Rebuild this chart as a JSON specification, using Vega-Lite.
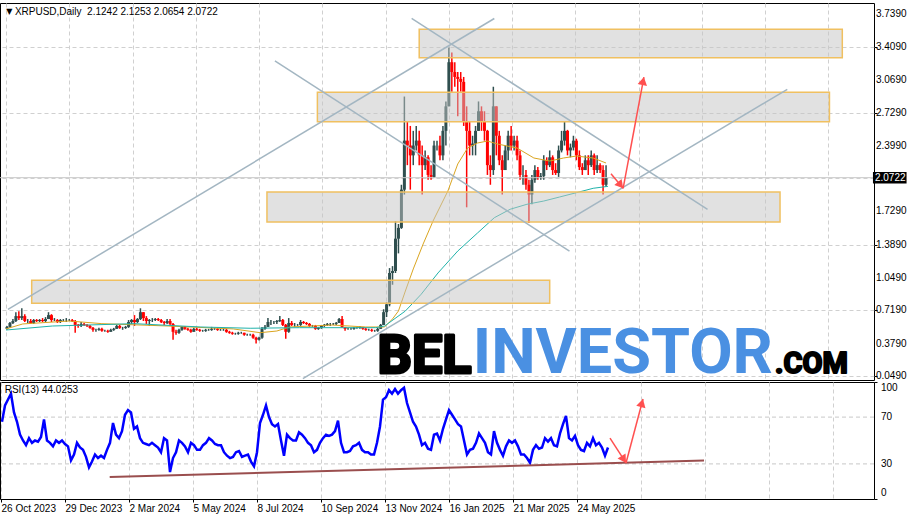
{
"$schema":"https://vega.github.io/schema/vega-lite/v6.json",
"background":"#ffffff",
"padding":{"left":-4,"top":2,"right":0,"bottom":0},
"spacing":2,
"bounds":"flush",
"config":{
 "view":{"stroke":"#000000","strokeWidth":1},
 "axis":{"labelFont":"Liberation Sans","labelFontSize":10,"labelColor":"#000000","tickColor":"#000000","gridColor":"#d0d0d0","gridDash":[4,3],"gridWidth":1,"labelOverlap":false}
},
"datasets":{
"bars":[
{"d":"2023-10-27","o":0.53,"h":0.56,"l":0.52,"c":0.55,"r":66},
{"d":"2023-10-30","o":0.55,"h":0.60,"l":0.54,"c":0.59,"r":80},
{"d":"2023-11-02","o":0.59,"h":0.63,"l":0.58,"c":0.61,"r":85},
{"d":"2023-11-05","o":0.61,"h":0.70,"l":0.60,"c":0.66,"r":90},
{"d":"2023-11-08","o":0.66,"h":0.71,"l":0.62,"c":0.64,"r":74},
{"d":"2023-11-11","o":0.64,"h":0.74,"l":0.62,"c":0.66,"r":66},
{"d":"2023-11-14","o":0.66,"h":0.68,"l":0.60,"c":0.61,"r":55},
{"d":"2023-11-17","o":0.61,"h":0.63,"l":0.59,"c":0.61,"r":50},
{"d":"2023-11-20","o":0.61,"h":0.63,"l":0.58,"c":0.59,"r":46},
{"d":"2023-11-23","o":0.59,"h":0.63,"l":0.58,"c":0.62,"r":52},
{"d":"2023-11-26","o":0.62,"h":0.63,"l":0.60,"c":0.61,"r":48},
{"d":"2023-11-29","o":0.61,"h":0.63,"l":0.60,"c":0.62,"r":50},
{"d":"2023-12-02","o":0.62,"h":0.64,"l":0.60,"c":0.61,"r":49},
{"d":"2023-12-05","o":0.61,"h":0.65,"l":0.60,"c":0.63,"r":53},
{"d":"2023-12-08","o":0.63,"h":0.70,"l":0.63,"c":0.67,"r":68},
{"d":"2023-12-11","o":0.67,"h":0.68,"l":0.60,"c":0.62,"r":50},
{"d":"2023-12-14","o":0.62,"h":0.64,"l":0.61,"c":0.62,"r":48},
{"d":"2023-12-17","o":0.62,"h":0.63,"l":0.59,"c":0.60,"r":45},
{"d":"2023-12-20","o":0.60,"h":0.63,"l":0.59,"c":0.62,"r":50},
{"d":"2023-12-23","o":0.62,"h":0.63,"l":0.61,"c":0.62,"r":48},
{"d":"2023-12-26","o":0.62,"h":0.64,"l":0.60,"c":0.62,"r":50},
{"d":"2023-12-29","o":0.62,"h":0.63,"l":0.61,"c":0.62,"r":47},
{"d":"2024-01-01","o":0.62,"h":0.63,"l":0.60,"c":0.61,"r":45},
{"d":"2024-01-04","o":0.61,"h":0.62,"l":0.49,"c":0.57,"r":33},
{"d":"2024-01-07","o":0.57,"h":0.58,"l":0.54,"c":0.56,"r":38},
{"d":"2024-01-10","o":0.56,"h":0.60,"l":0.55,"c":0.58,"r":48},
{"d":"2024-01-13","o":0.58,"h":0.59,"l":0.56,"c":0.57,"r":44},
{"d":"2024-01-16","o":0.57,"h":0.58,"l":0.55,"c":0.56,"r":42},
{"d":"2024-01-19","o":0.56,"h":0.57,"l":0.53,"c":0.54,"r":36},
{"d":"2024-01-22","o":0.54,"h":0.55,"l":0.50,"c":0.52,"r":27},
{"d":"2024-01-25","o":0.52,"h":0.53,"l":0.50,"c":0.52,"r":32},
{"d":"2024-01-28","o":0.52,"h":0.54,"l":0.51,"c":0.53,"r":38},
{"d":"2024-01-31","o":0.53,"h":0.54,"l":0.50,"c":0.51,"r":35},
{"d":"2024-02-03","o":0.51,"h":0.52,"l":0.50,"c":0.51,"r":37},
{"d":"2024-02-06","o":0.51,"h":0.52,"l":0.49,"c":0.50,"r":35},
{"d":"2024-02-09","o":0.50,"h":0.53,"l":0.50,"c":0.52,"r":42},
{"d":"2024-02-12","o":0.52,"h":0.54,"l":0.51,"c":0.53,"r":48},
{"d":"2024-02-15","o":0.53,"h":0.57,"l":0.53,"c":0.56,"r":65},
{"d":"2024-02-18","o":0.56,"h":0.57,"l":0.53,"c":0.54,"r":55},
{"d":"2024-02-21","o":0.54,"h":0.55,"l":0.52,"c":0.54,"r":52},
{"d":"2024-02-24","o":0.54,"h":0.56,"l":0.53,"c":0.55,"r":58},
{"d":"2024-02-27","o":0.55,"h":0.62,"l":0.54,"c":0.60,"r":72},
{"d":"2024-03-01","o":0.60,"h":0.63,"l":0.58,"c":0.62,"r":76},
{"d":"2024-03-04","o":0.62,"h":0.67,"l":0.56,"c":0.60,"r":74},
{"d":"2024-03-07","o":0.60,"h":0.64,"l":0.59,"c":0.63,"r":60},
{"d":"2024-03-10","o":0.63,"h":0.74,"l":0.62,"c":0.70,"r":62},
{"d":"2024-03-13","o":0.70,"h":0.70,"l":0.61,"c":0.64,"r":52},
{"d":"2024-03-16","o":0.64,"h":0.66,"l":0.58,"c":0.61,"r":48},
{"d":"2024-03-19","o":0.61,"h":0.63,"l":0.56,"c":0.62,"r":47},
{"d":"2024-03-22","o":0.62,"h":0.64,"l":0.60,"c":0.62,"r":46},
{"d":"2024-03-25","o":0.62,"h":0.64,"l":0.61,"c":0.63,"r":48},
{"d":"2024-03-28","o":0.63,"h":0.64,"l":0.61,"c":0.62,"r":46},
{"d":"2024-03-31","o":0.62,"h":0.63,"l":0.59,"c":0.60,"r":44},
{"d":"2024-04-03","o":0.60,"h":0.61,"l":0.57,"c":0.59,"r":40},
{"d":"2024-04-06","o":0.59,"h":0.63,"l":0.58,"c":0.61,"r":52},
{"d":"2024-04-09","o":0.61,"h":0.63,"l":0.57,"c":0.58,"r":50},
{"d":"2024-04-12","o":0.58,"h":0.59,"l":0.42,"c":0.50,"r":23},
{"d":"2024-04-15","o":0.50,"h":0.52,"l":0.47,"c":0.49,"r":35},
{"d":"2024-04-18","o":0.49,"h":0.53,"l":0.48,"c":0.52,"r":40},
{"d":"2024-04-21","o":0.52,"h":0.56,"l":0.51,"c":0.55,"r":50},
{"d":"2024-04-24","o":0.55,"h":0.56,"l":0.52,"c":0.53,"r":48},
{"d":"2024-04-27","o":0.53,"h":0.54,"l":0.51,"c":0.52,"r":45},
{"d":"2024-04-30","o":0.52,"h":0.53,"l":0.49,"c":0.50,"r":40},
{"d":"2024-05-03","o":0.50,"h":0.54,"l":0.50,"c":0.53,"r":48},
{"d":"2024-05-06","o":0.53,"h":0.54,"l":0.51,"c":0.52,"r":46},
{"d":"2024-05-09","o":0.52,"h":0.53,"l":0.50,"c":0.51,"r":42},
{"d":"2024-05-12","o":0.51,"h":0.52,"l":0.50,"c":0.51,"r":42},
{"d":"2024-05-15","o":0.51,"h":0.53,"l":0.50,"c":0.52,"r":46},
{"d":"2024-05-18","o":0.52,"h":0.53,"l":0.51,"c":0.52,"r":48},
{"d":"2024-05-21","o":0.52,"h":0.55,"l":0.51,"c":0.53,"r":52},
{"d":"2024-05-24","o":0.53,"h":0.54,"l":0.52,"c":0.53,"r":50},
{"d":"2024-05-27","o":0.53,"h":0.54,"l":0.51,"c":0.52,"r":47},
{"d":"2024-05-30","o":0.52,"h":0.53,"l":0.51,"c":0.52,"r":46},
{"d":"2024-06-02","o":0.52,"h":0.53,"l":0.51,"c":0.52,"r":46},
{"d":"2024-06-05","o":0.52,"h":0.53,"l":0.49,"c":0.50,"r":40},
{"d":"2024-06-08","o":0.50,"h":0.51,"l":0.48,"c":0.49,"r":37},
{"d":"2024-06-11","o":0.49,"h":0.50,"l":0.47,"c":0.48,"r":35},
{"d":"2024-06-14","o":0.48,"h":0.49,"l":0.47,"c":0.48,"r":36},
{"d":"2024-06-17","o":0.48,"h":0.50,"l":0.47,"c":0.49,"r":40},
{"d":"2024-06-20","o":0.49,"h":0.50,"l":0.48,"c":0.49,"r":41},
{"d":"2024-06-23","o":0.49,"h":0.49,"l":0.46,"c":0.47,"r":36},
{"d":"2024-06-26","o":0.47,"h":0.48,"l":0.46,"c":0.47,"r":37},
{"d":"2024-06-29","o":0.47,"h":0.48,"l":0.46,"c":0.47,"r":38},
{"d":"2024-07-02","o":0.47,"h":0.48,"l":0.43,"c":0.44,"r":32},
{"d":"2024-07-05","o":0.44,"h":0.45,"l":0.38,"c":0.42,"r":28},
{"d":"2024-07-08","o":0.42,"h":0.45,"l":0.41,"c":0.44,"r":40},
{"d":"2024-07-11","o":0.44,"h":0.55,"l":0.43,"c":0.53,"r":65},
{"d":"2024-07-14","o":0.53,"h":0.57,"l":0.52,"c":0.55,"r":72},
{"d":"2024-07-17","o":0.55,"h":0.64,"l":0.55,"c":0.60,"r":80},
{"d":"2024-07-20","o":0.60,"h":0.62,"l":0.57,"c":0.60,"r":70},
{"d":"2024-07-23","o":0.60,"h":0.61,"l":0.58,"c":0.60,"r":64},
{"d":"2024-07-26","o":0.60,"h":0.62,"l":0.58,"c":0.61,"r":62},
{"d":"2024-07-29","o":0.61,"h":0.66,"l":0.60,"c":0.62,"r":64},
{"d":"2024-08-01","o":0.62,"h":0.63,"l":0.56,"c":0.57,"r":50},
{"d":"2024-08-04","o":0.57,"h":0.58,"l":0.43,"c":0.50,"r":37},
{"d":"2024-08-07","o":0.50,"h":0.64,"l":0.49,"c":0.59,"r":55},
{"d":"2024-08-10","o":0.59,"h":0.61,"l":0.56,"c":0.57,"r":52},
{"d":"2024-08-13","o":0.57,"h":0.59,"l":0.55,"c":0.57,"r":50},
{"d":"2024-08-16","o":0.57,"h":0.58,"l":0.56,"c":0.57,"r":50},
{"d":"2024-08-19","o":0.57,"h":0.62,"l":0.56,"c":0.60,"r":57},
{"d":"2024-08-22","o":0.60,"h":0.61,"l":0.58,"c":0.59,"r":55},
{"d":"2024-08-25","o":0.59,"h":0.60,"l":0.57,"c":0.58,"r":52},
{"d":"2024-08-28","o":0.58,"h":0.59,"l":0.55,"c":0.56,"r":48},
{"d":"2024-08-31","o":0.56,"h":0.57,"l":0.55,"c":0.56,"r":46},
{"d":"2024-09-03","o":0.56,"h":0.57,"l":0.52,"c":0.53,"r":40},
{"d":"2024-09-06","o":0.53,"h":0.55,"l":0.52,"c":0.54,"r":42},
{"d":"2024-09-09","o":0.54,"h":0.57,"l":0.53,"c":0.56,"r":48},
{"d":"2024-09-12","o":0.56,"h":0.58,"l":0.55,"c":0.57,"r":52},
{"d":"2024-09-15","o":0.57,"h":0.59,"l":0.56,"c":0.58,"r":55},
{"d":"2024-09-18","o":0.58,"h":0.59,"l":0.56,"c":0.58,"r":54},
{"d":"2024-09-21","o":0.58,"h":0.59,"l":0.57,"c":0.58,"r":55},
{"d":"2024-09-24","o":0.58,"h":0.60,"l":0.57,"c":0.59,"r":58},
{"d":"2024-09-27","o":0.59,"h":0.64,"l":0.59,"c":0.63,"r":67},
{"d":"2024-09-30","o":0.63,"h":0.66,"l":0.54,"c":0.55,"r":48},
{"d":"2024-10-03","o":0.55,"h":0.55,"l":0.51,"c":0.53,"r":40},
{"d":"2024-10-06","o":0.53,"h":0.54,"l":0.52,"c":0.53,"r":40},
{"d":"2024-10-09","o":0.53,"h":0.54,"l":0.52,"c":0.53,"r":41},
{"d":"2024-10-12","o":0.53,"h":0.55,"l":0.52,"c":0.54,"r":45},
{"d":"2024-10-15","o":0.54,"h":0.55,"l":0.53,"c":0.54,"r":46},
{"d":"2024-10-18","o":0.54,"h":0.56,"l":0.53,"c":0.55,"r":48},
{"d":"2024-10-21","o":0.55,"h":0.55,"l":0.52,"c":0.53,"r":42},
{"d":"2024-10-24","o":0.53,"h":0.54,"l":0.51,"c":0.52,"r":40},
{"d":"2024-10-27","o":0.52,"h":0.53,"l":0.51,"c":0.52,"r":40},
{"d":"2024-10-30","o":0.52,"h":0.53,"l":0.50,"c":0.51,"r":38},
{"d":"2024-11-02","o":0.51,"h":0.52,"l":0.50,"c":0.51,"r":38},
{"d":"2024-11-05","o":0.51,"h":0.54,"l":0.50,"c":0.53,"r":48},
{"d":"2024-11-08","o":0.53,"h":0.58,"l":0.53,"c":0.57,"r":62},
{"d":"2024-11-11","o":0.57,"h":0.73,"l":0.57,"c":0.70,"r":85},
{"d":"2024-11-14","o":0.70,"h":0.80,"l":0.65,"c":0.78,"r":87},
{"d":"2024-11-17","o":0.78,"h":1.15,"l":0.76,"c":1.10,"r":93},
{"d":"2024-11-20","o":1.10,"h":1.17,"l":0.98,"c":1.12,"r":90},
{"d":"2024-11-23","o":1.12,"h":1.63,"l":1.10,"c":1.45,"r":94},
{"d":"2024-11-26","o":1.45,"h":1.60,"l":1.30,"c":1.56,"r":90},
{"d":"2024-11-29","o":1.56,"h":2.00,"l":1.55,"c":1.95,"r":93},
{"d":"2024-12-02","o":1.95,"h":2.90,"l":1.90,"c":2.45,"r":95},
{"d":"2024-12-05","o":2.45,"h":2.65,"l":2.20,"c":2.40,"r":82},
{"d":"2024-12-08","o":2.40,"h":2.60,"l":1.95,"c":2.30,"r":74},
{"d":"2024-12-11","o":2.30,"h":2.55,"l":2.20,"c":2.40,"r":66},
{"d":"2024-12-14","o":2.40,"h":2.60,"l":2.35,"c":2.45,"r":62},
{"d":"2024-12-17","o":2.45,"h":2.55,"l":2.20,"c":2.30,"r":55},
{"d":"2024-12-20","o":2.30,"h":2.40,"l":1.90,"c":2.20,"r":46},
{"d":"2024-12-23","o":2.20,"h":2.35,"l":2.15,"c":2.28,"r":48},
{"d":"2024-12-26","o":2.28,"h":2.30,"l":2.05,"c":2.10,"r":43},
{"d":"2024-12-29","o":2.10,"h":2.20,"l":2.05,"c":2.08,"r":42},
{"d":"2025-01-01","o":2.08,"h":2.45,"l":2.07,"c":2.40,"r":55},
{"d":"2025-01-04","o":2.40,"h":2.45,"l":2.35,"c":2.40,"r":56},
{"d":"2025-01-07","o":2.40,"h":2.50,"l":2.25,"c":2.30,"r":50},
{"d":"2025-01-10","o":2.30,"h":2.60,"l":2.25,"c":2.55,"r":60},
{"d":"2025-01-13","o":2.55,"h":2.85,"l":2.40,"c":2.80,"r":68},
{"d":"2025-01-16","o":2.80,"h":3.40,"l":2.80,"c":3.25,"r":76},
{"d":"2025-01-19","o":3.25,"h":3.35,"l":2.95,"c":3.15,"r":72},
{"d":"2025-01-22","o":3.15,"h":3.25,"l":3.00,"c":3.10,"r":68},
{"d":"2025-01-25","o":3.10,"h":3.15,"l":2.70,"c":3.08,"r":64},
{"d":"2025-01-28","o":3.08,"h":3.15,"l":2.95,"c":3.05,"r":62},
{"d":"2025-01-31","o":3.05,"h":3.10,"l":2.60,"c":2.65,"r":50},
{"d":"2025-02-03","o":2.65,"h":2.80,"l":1.77,"c":2.55,"r":38},
{"d":"2025-02-06","o":2.55,"h":2.65,"l":2.30,"c":2.40,"r":42},
{"d":"2025-02-09","o":2.40,"h":2.50,"l":2.30,"c":2.42,"r":43},
{"d":"2025-02-12","o":2.42,"h":2.60,"l":2.30,"c":2.55,"r":48},
{"d":"2025-02-15","o":2.55,"h":2.85,"l":2.55,"c":2.75,"r":56},
{"d":"2025-02-18","o":2.75,"h":2.80,"l":2.55,"c":2.65,"r":52},
{"d":"2025-02-21","o":2.65,"h":2.75,"l":2.45,"c":2.55,"r":48},
{"d":"2025-02-24","o":2.55,"h":2.56,"l":2.10,"c":2.20,"r":40},
{"d":"2025-02-27","o":2.20,"h":2.30,"l":2.00,"c":2.15,"r":38},
{"d":"2025-03-02","o":2.15,"h":3.00,"l":2.10,"c":2.80,"r":58},
{"d":"2025-03-05","o":2.80,"h":2.80,"l":2.30,"c":2.50,"r":48},
{"d":"2025-03-08","o":2.50,"h":2.55,"l":2.20,"c":2.25,"r":42},
{"d":"2025-03-11","o":2.25,"h":2.30,"l":1.90,"c":2.15,"r":37},
{"d":"2025-03-14","o":2.15,"h":2.40,"l":2.15,"c":2.35,"r":45},
{"d":"2025-03-17","o":2.35,"h":2.55,"l":2.25,"c":2.50,"r":50},
{"d":"2025-03-20","o":2.50,"h":2.60,"l":2.35,"c":2.40,"r":48},
{"d":"2025-03-23","o":2.40,"h":2.50,"l":2.35,"c":2.45,"r":50},
{"d":"2025-03-26","o":2.45,"h":2.50,"l":2.25,"c":2.30,"r":45},
{"d":"2025-03-29","o":2.30,"h":2.35,"l":2.05,"c":2.10,"r":38},
{"d":"2025-04-01","o":2.10,"h":2.20,"l":2.00,"c":2.10,"r":38},
{"d":"2025-04-04","o":2.10,"h":2.15,"l":1.95,"c":2.00,"r":35},
{"d":"2025-04-07","o":2.00,"h":2.05,"l":1.61,"c":1.90,"r":31},
{"d":"2025-04-10","o":1.90,"h":2.10,"l":1.80,"c":2.05,"r":42},
{"d":"2025-04-13","o":2.05,"h":2.20,"l":2.02,"c":2.15,"r":46},
{"d":"2025-04-16","o":2.15,"h":2.18,"l":2.05,"c":2.08,"r":43},
{"d":"2025-04-19","o":2.08,"h":2.12,"l":2.05,"c":2.09,"r":44},
{"d":"2025-04-22","o":2.09,"h":2.30,"l":2.05,"c":2.25,"r":52},
{"d":"2025-04-25","o":2.25,"h":2.28,"l":2.15,"c":2.20,"r":49},
{"d":"2025-04-28","o":2.20,"h":2.35,"l":2.18,"c":2.28,"r":52},
{"d":"2025-05-01","o":2.28,"h":2.30,"l":2.10,"c":2.15,"r":46},
{"d":"2025-05-04","o":2.15,"h":2.22,"l":2.10,"c":2.12,"r":45},
{"d":"2025-05-07","o":2.12,"h":2.40,"l":2.08,"c":2.35,"r":56},
{"d":"2025-05-10","o":2.35,"h":2.55,"l":2.33,"c":2.45,"r":64},
{"d":"2025-05-13","o":2.45,"h":2.65,"l":2.40,"c":2.55,"r":71},
{"d":"2025-05-16","o":2.55,"h":2.56,"l":2.30,"c":2.35,"r":52},
{"d":"2025-05-19","o":2.35,"h":2.42,"l":2.28,"c":2.38,"r":50},
{"d":"2025-05-22","o":2.38,"h":2.50,"l":2.35,"c":2.45,"r":54},
{"d":"2025-05-25","o":2.45,"h":2.47,"l":2.25,"c":2.30,"r":46},
{"d":"2025-05-28","o":2.30,"h":2.35,"l":2.15,"c":2.18,"r":42},
{"d":"2025-05-31","o":2.18,"h":2.22,"l":2.10,"c":2.15,"r":41},
{"d":"2025-06-03","o":2.15,"h":2.30,"l":2.15,"c":2.25,"r":48},
{"d":"2025-06-06","o":2.25,"h":2.30,"l":2.10,"c":2.20,"r":45},
{"d":"2025-06-09","o":2.20,"h":2.35,"l":2.18,"c":2.30,"r":52},
{"d":"2025-06-12","o":2.30,"h":2.32,"l":2.10,"c":2.15,"r":46},
{"d":"2025-06-15","o":2.15,"h":2.30,"l":2.12,"c":2.20,"r":48},
{"d":"2025-06-18","o":2.20,"h":2.22,"l":2.12,"c":2.15,"r":44},
{"d":"2025-06-21","o":2.15,"h":2.20,"l":1.90,"c":2.00,"r":37},
{"d":"2025-06-24","o":2.00,"h":2.20,"l":1.98,"c":2.07,"r":44}
],
"ma1":[
{"d":"2023-10-26","v":0.529},{"d":"2023-11-12","v":0.580},{"d":"2023-12-29","v":0.610},{"d":"2024-01-31","v":0.583},{"d":"2024-04-07","v":0.559},{"d":"2024-06-12","v":0.529},{"d":"2024-07-09","v":0.491},{"d":"2024-07-26","v":0.508},{"d":"2024-08-08","v":0.549},{"d":"2024-09-20","v":0.569},{"d":"2024-10-24","v":0.549},{"d":"2024-11-12","v":0.549},{"d":"2024-11-20","v":0.631},{"d":"2024-11-26","v":0.712},{"d":"2024-12-03","v":0.916},{"d":"2024-12-11","v":1.141},{"d":"2024-12-21","v":1.396},{"d":"2024-12-31","v":1.630},{"d":"2025-01-15","v":1.936},{"d":"2025-01-25","v":2.212},{"d":"2025-02-04","v":2.375},{"d":"2025-02-14","v":2.426},{"d":"2025-02-24","v":2.446},{"d":"2025-03-06","v":2.416},{"d":"2025-03-26","v":2.375},{"d":"2025-04-12","v":2.273},{"d":"2025-04-28","v":2.242},{"d":"2025-05-12","v":2.273},{"d":"2025-05-25","v":2.293},{"d":"2025-06-11","v":2.273},{"d":"2025-06-24","v":2.222}
],
"ma2":[
{"d":"2023-10-26","v":0.518},{"d":"2023-12-12","v":0.559},{"d":"2024-03-04","v":0.583},{"d":"2024-05-10","v":0.549},{"d":"2024-06-29","v":0.536},{"d":"2024-08-18","v":0.542},{"d":"2024-11-03","v":0.542},{"d":"2024-11-12","v":0.559},{"d":"2024-12-03","v":0.712},{"d":"2024-12-19","v":0.883},{"d":"2025-01-05","v":1.100},{"d":"2025-01-25","v":1.324},{"d":"2025-02-14","v":1.508},{"d":"2025-03-03","v":1.664},{"d":"2025-03-19","v":1.750},{"d":"2025-04-05","v":1.801},{"d":"2025-04-22","v":1.834},{"d":"2025-05-08","v":1.875},{"d":"2025-05-25","v":1.919},{"d":"2025-06-11","v":1.964},{"d":"2025-06-26","v":1.984}
],
"zones":[
{"d1":"2024-12-17","d2":"2026-02-18","p1":3.296,"p2":3.586},
{"d1":"2024-09-05","d2":"2026-02-05","p1":2.643,"p2":2.943},
{"d1":"2024-07-16","d2":"2025-12-17","p1":1.620,"p2":1.926},
{"d1":"2023-11-21","d2":"2025-04-28","p1":0.791,"p2":1.025}
],
"tl":[
{"g":"A","d":"2024-07-24","p":3.263},{"g":"A","d":"2025-05-18","p":1.324},
{"g":"B","d":"2024-12-09T08:00:00Z","p":3.698},{"g":"B","d":"2025-10-04T16:00:00Z","p":1.750},
{"g":"C","d":"2023-10-28","p":0.729},{"g":"C","d":"2025-03-03","p":3.696},
{"g":"D","d":"2024-08-21T08:00:00Z","p":0.0215},{"g":"D","d":"2025-12-24T08:00:00Z","p":2.974}
],
"arr":[
{"g":"a","d":"2025-06-29","p":2.113},{"g":"a","d":"2025-07-11T07:00:00Z","p":1.964},
{"g":"b","d":"2025-07-11T07:00:00Z","p":1.964},{"g":"b","d":"2025-08-01T07:00:00Z","p":3.099}
],
"rarr":[
{"g":"a","d":"2025-06-26","v":52.1},{"g":"a","d":"2025-07-12","v":30.8},
{"g":"b","d":"2025-07-12","v":30.8},{"g":"b","d":"2025-07-29","v":85.5}
],
"sup":[
{"d":"2024-02-11T17:00:00Z","v":18.8},{"d":"2025-09-28","v":32.9}
],
"ylab":[
{"v":3.739},{"v":3.409},{"v":3.069},{"v":2.729},{"v":2.399},{"v":1.729},{"v":1.389},{"v":1.049},{"v":0.719},{"v":0.379},{"v":0.049}
]
},
"vconcat":[
{"width":874,"height":377,"layer":[
 {"data":{"name":"bars"},"mark":{"type":"rule","strokeWidth":1.5},
  "encoding":{
   "x":{"field":"d","type":"temporal","scale":{"type":"utc","domain":[1698192000000,1773705600000],"nice":false},
        "axis":{"values":[1698278400000,1701043200000,1703808000000,1706572800000,1709337600000,1712102400000,1714867200000,1717632000000,1720396800000,1723161600000,1725926400000,1728691200000,1731456000000,1734220800000,1736985600000,1739750400000,1742515200000,1745280000000,1748044800000,1750809600000,1753574400000,1756339200000,1759104000000,1761868800000,1764633600000,1767398400000,1770163200000,1772928000000],"grid":true,"labels":false,"ticks":false,"domain":false,"title":null}},
   "y":{"field":"l","type":"quantitative","scale":{"domain":[0.0082,3.8543],"nice":false,"zero":false},
        "axis":{"orient":"right","values":[0.049,0.379,0.719,1.049,1.389,1.729,2.069,2.399,2.729,3.069,3.409,3.739],"grid":true,"domain":false,"tickSize":3,"labels":false,"title":null}},
   "y2":{"field":"h"},
   "color":{"condition":{"test":"datum.c>=datum.o","value":"#2f4f4f"},"value":"#ff0000"}}},
 {"data":{"name":"bars"},"mark":{"type":"bar","width":3},
  "encoding":{
   "x":{"field":"d","type":"temporal"},
   "y":{"field":"o","type":"quantitative"},
   "y2":{"field":"c"},
   "color":{"condition":{"test":"datum.c>=datum.o","value":"#2f4f4f"},"value":"#ff0000"}}},
 {"data":{"name":"ma1"},"mark":{"type":"line","color":"#daa520","strokeWidth":1},
  "encoding":{"x":{"field":"d","type":"temporal"},"y":{"field":"v","type":"quantitative"}}},
 {"data":{"name":"ma2"},"mark":{"type":"line","color":"#20b2aa","strokeWidth":1},
  "encoding":{"x":{"field":"d","type":"temporal"},"y":{"field":"v","type":"quantitative"}}},
 {"data":{"values":[{"v":2.0722}]},"mark":{"type":"rule","color":"#c8c8c8","strokeWidth":1},
  "encoding":{"y":{"field":"v","type":"quantitative"}}},
 {"data":{"name":"zones"},"mark":{"type":"rect","fill":"#c4c4c4","fillOpacity":0.5,"stroke":"#f0c060","strokeWidth":1.5},
  "encoding":{"x":{"field":"d1","type":"temporal"},"x2":{"field":"d2"},"y":{"field":"p1","type":"quantitative"},"y2":{"field":"p2"}}},
 {"data":{"name":"tl"},"mark":{"type":"line","color":"#a3b6c2","strokeWidth":1.5},
  "encoding":{"x":{"field":"d","type":"temporal"},"y":{"field":"p","type":"quantitative"},"detail":{"field":"g"}}},
 {"data":{"name":"arr"},"mark":{"type":"line","color":"#ff5050","strokeWidth":1.5},
  "encoding":{"x":{"field":"d","type":"temporal"},"y":{"field":"p","type":"quantitative"},"detail":{"field":"g"}}},
 {"data":{"values":[{}]},"mark":{"type":"point","shape":"triangle-up","filled":true,"size":90,"angle":140,"color":"#ff5050","opacity":1},
  "encoding":{"x":{"datum":{"year":2025,"month":7,"date":8,"hours":17,"utc":true},"type":"temporal"},"y":{"datum":1.996,"type":"quantitative"}}},
 {"data":{"values":[{}]},"mark":{"type":"point","shape":"triangle-up","filled":true,"size":90,"angle":11,"color":"#ff5050","opacity":1},
  "encoding":{"x":{"datum":{"year":2025,"month":7,"date":31,"hours":12,"utc":true},"type":"temporal"},"y":{"datum":3.059,"type":"quantitative"}}},
 {"data":{"values":[{}]},"mark":{"type":"text","text":"BEL","font":"Roboto","fontWeight":"bold","fontSize":54,"align":"right","baseline":"alphabetic","fill":"#000000","stroke":"#000000","strokeWidth":3,"strokeJoin":"round"},
  "encoding":{"x":{"datum":{"year":2025,"month":2,"date":8,"utc":true},"type":"temporal"},"y":{"datum":0.083,"type":"quantitative"}}},
 {"data":{"values":[{}]},"mark":{"type":"text","text":"INVESTOR","font":"Roboto","fontWeight":"bold","fontSize":63,"align":"center","baseline":"alphabetic","fill":"#4a90e2"},
  "encoding":{"x":{"datum":{"year":2025,"month":7,"date":11,"utc":true},"type":"temporal"},"y":{"datum":0.083,"type":"quantitative"}}},
 {"data":{"values":[{}]},"mark":{"type":"text","text":".COM","font":"Roboto","fontWeight":"bold","fontSize":29,"align":"left","baseline":"alphabetic","fill":"#000000","stroke":"#000000","strokeWidth":2,"strokeJoin":"round"},
  "encoding":{"x":{"datum":{"year":2025,"month":12,"date":12,"utc":true},"type":"temporal"},"y":{"datum":0.083,"type":"quantitative"}}},
 {"data":{"values":[{}]},"mark":{"type":"text","text":"▼","font":"DejaVu Sans","fontSize":8,"align":"center","baseline":"middle","color":"#000000"},
  "encoding":{"x":{"datum":{"year":2023,"month":10,"date":29,"hours":12,"utc":true},"type":"temporal"},"y":{"datum":3.762,"type":"quantitative"}}},
 {"data":{"values":[{}]},"mark":{"type":"text","text":"XRPUSD,Daily\u00a0 2.1242 2.1253 2.0654 2.0722","font":"Liberation Sans","fontSize":10,"align":"left","baseline":"middle","color":"#000000"},
  "encoding":{"x":{"datum":{"year":2023,"month":11,"date":4,"utc":true},"type":"temporal"},"y":{"datum":3.762,"type":"quantitative"}}},
 {"data":{"name":"ylab"},"mark":{"type":"text","font":"Liberation Sans","fontSize":10,"align":"left","baseline":"middle","color":"#000000"},
  "encoding":{"x":{"datum":{"year":2026,"month":3,"date":24,"utc":true},"type":"temporal"},"y":{"field":"v","type":"quantitative"},"text":{"field":"v","type":"quantitative","format":".4f"}}},
 {"data":{"values":[{}]},"mark":{"type":"rect","color":"#000000"},
  "encoding":{"x":{"datum":{"year":2026,"month":3,"date":21,"utc":true},"type":"temporal"},"x2":{"datum":{"year":2026,"month":4,"date":24,"utc":true}},"y":{"datum":2.0129,"type":"quantitative"},"y2":{"datum":2.1302}}},
 {"data":{"values":[{}]},"mark":{"type":"text","text":"2.0722","font":"Liberation Sans","fontSize":10,"align":"left","baseline":"middle","color":"#ffffff"},
  "encoding":{"x":{"datum":{"year":2026,"month":3,"date":23,"utc":true},"type":"temporal"},"y":{"datum":2.0722,"type":"quantitative"}}}
]},
{"width":874,"height":117,"layer":[
 {"data":{"values":[{"v":30},{"v":70}]},"mark":{"type":"rule","color":"#c8c8c8","strokeDash":[4,3]},
  "encoding":{"y":{"field":"v","type":"quantitative","scale":{"domain":[0,100],"nice":false,"zero":false},
   "axis":{"orient":"right","values":[0,30,70,100],"grid":false,"domain":false,"tickSize":3,"labels":false,"title":null}}}},
 {"data":{"name":"bars"},"mark":{"type":"line","color":"#0000ff","strokeWidth":2.5},
  "encoding":{
   "x":{"field":"d","type":"temporal","scale":{"type":"utc","domain":[1698192000000,1773705600000],"nice":false},
        "axis":{"values":[1698278400000,1701043200000,1703808000000,1706572800000,1709337600000,1712102400000,1714867200000,1717632000000,1720396800000,1723161600000,1725926400000,1728691200000,1731456000000,1734220800000,1736985600000,1739750400000,1742515200000,1745280000000,1748044800000,1750809600000,1753574400000,1756339200000,1759104000000,1761868800000,1764633600000,1767398400000,1770163200000,1772928000000],"grid":true,"domain":false,"tickSize":3,"labelPadding":1,"labelAlign":"left","labelFlush":false,"labelOverlap":false,"labelBound":false,"title":null,
          "labelExpr":"(round((datum.value-1698278400000)/86400000)%64==0 && datum.value<1750000000000) ? utcFormat(datum.value,'%-d %b %Y') : ''",
          "tickOpacity":{"condition":{"test":"round((datum.value-1698278400000)/86400000)%64==0 && datum.value<1750000000000","value":1},"value":0}}},
   "y":{"field":"r","type":"quantitative"}}},
 {"data":{"name":"sup"},"mark":{"type":"line","color":"#9a4e4e","strokeWidth":2},
  "encoding":{"x":{"field":"d","type":"temporal"},"y":{"field":"v","type":"quantitative"}}},
 {"data":{"name":"rarr"},"mark":{"type":"line","color":"#ff5050","strokeWidth":1.5},
  "encoding":{"x":{"field":"d","type":"temporal"},"y":{"field":"v","type":"quantitative"},"detail":{"field":"g"}}},
 {"data":{"values":[{}]},"mark":{"type":"point","shape":"triangle-up","filled":true,"size":90,"angle":147,"color":"#ff5050","opacity":1},
  "encoding":{"x":{"datum":{"year":2025,"month":7,"date":9,"hours":19,"utc":true},"type":"temporal"},"y":{"datum":33.8,"type":"quantitative"}}},
 {"data":{"values":[{}]},"mark":{"type":"point","shape":"triangle-up","filled":true,"size":90,"angle":15,"color":"#ff5050","opacity":1},
  "encoding":{"x":{"datum":{"year":2025,"month":7,"date":27,"hours":22,"utc":true},"type":"temporal"},"y":{"datum":82.1,"type":"quantitative"}}},
 {"data":{"values":[{}]},"mark":{"type":"text","text":"RSI(13) 44.0253","font":"Liberation Sans","fontSize":10,"align":"left","baseline":"middle","color":"#000000"},
  "encoding":{"x":{"datum":{"year":2023,"month":10,"date":29,"hours":17,"utc":true},"type":"temporal"},"y":{"datum":93.2,"type":"quantitative"}}},
 {"data":{"values":[{"v":30},{"v":70}]},"mark":{"type":"text","font":"Liberation Sans","fontSize":10,"align":"left","baseline":"middle","color":"#000000"},
  "encoding":{"x":{"datum":{"year":2026,"month":3,"date":24,"utc":true},"type":"temporal"},"y":{"field":"v","type":"quantitative"},"text":{"field":"v","type":"quantitative"}}},
 {"data":{"values":[{}]},"mark":{"type":"text","text":"100","font":"Liberation Sans","fontSize":10,"align":"left","baseline":"top","dy":1,"color":"#000000"},
  "encoding":{"x":{"datum":{"year":2026,"month":3,"date":24,"utc":true},"type":"temporal"},"y":{"datum":100,"type":"quantitative"}}},
 {"data":{"values":[{}]},"mark":{"type":"text","text":"0","font":"Liberation Sans","fontSize":10,"align":"left","baseline":"bottom","dy":-1,"color":"#000000"},
  "encoding":{"x":{"datum":{"year":2026,"month":3,"date":24,"utc":true},"type":"temporal"},"y":{"datum":0,"type":"quantitative"}}}
]}
]
}
